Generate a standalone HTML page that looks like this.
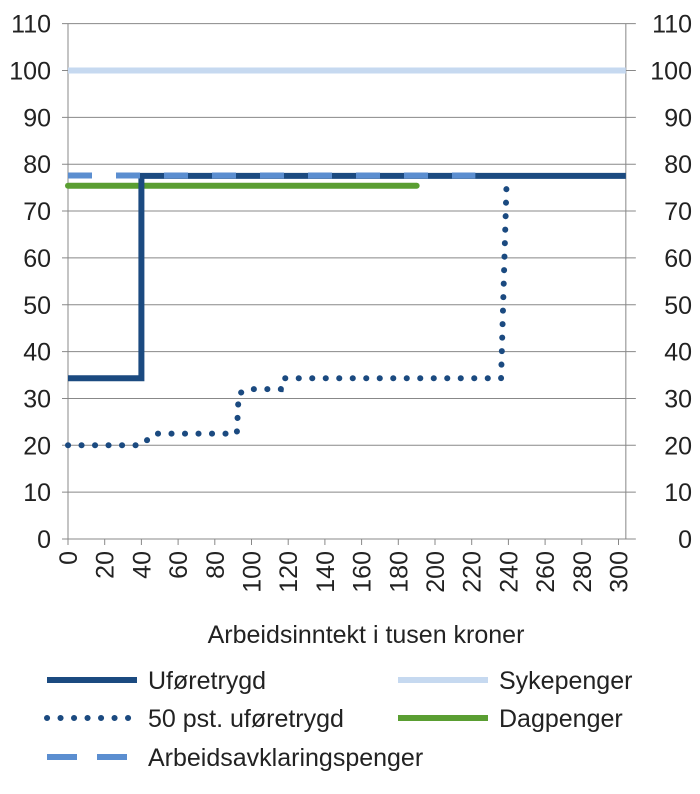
<!DOCTYPE html>
<html><head><meta charset="utf-8"><style>
body{margin:0;background:#fff}
svg text{font-family:"Liberation Sans",sans-serif;fill:#222}
</style></head><body>
<svg id="c" width="700" height="789"></svg>
<script>
const yTicks=[0,10,20,30,40,50,60,70,80,90,100,110];
const xTicks=[0,20,40,60,80,100,120,140,160,180,200,220,240,260,280,300];
const uforeX=[0,40,40,304];
const uforeY=[34.3,34.3,77.5,77.5];
const halvX=[0,40,47,92,93,98,116,117,236,239];
const halvY=[20,20,22.5,22.5,31,32,32,34.3,34.3,76];
const sykeX=[0,304];const sykeY=[100,100];
const dagX=[0,190];const dagY=[75.4,75.4];
const aapX=[0,222];const aapY=[77.6,77.6];
const NS="http://www.w3.org/2000/svg";
const svg=document.getElementById('c');
const X0=68,XS=36.7/20,Y0=539,YS=46.85/10,XMAX=304;
const sx=v=>X0+v*XS, sy=v=>Y0-v*YS;
function el(t,a,p){const e=document.createElementNS(NS,t);for(const k in a)e.setAttribute(k,a[k]);(p||svg).appendChild(e);return e;}
yTicks.forEach(v=>{
 const g=el('line',{x1:62,x2:sx(XMAX)+10,y1:sy(v),y2:sy(v),stroke:'#888','stroke-width':1});
 
 
 const t=el('text',{x:51,y:sy(v)+9,'text-anchor':'end','font-size':25});t.textContent=v;
 
 
 const t2=el('text',{x:692,y:sy(v)+9,'text-anchor':'end','font-size':25});t2.textContent=v;
 
 
});
const la=el('line',{x1:X0,x2:X0,y1:sy(110),y2:Y0+6,stroke:'#888'});

const ra=el('line',{x1:sx(XMAX),x2:sx(XMAX),y1:sy(110),y2:Y0,stroke:'#888'});

xTicks.forEach(v=>{
 const l=el('line',{x1:sx(v),x2:sx(v),y1:Y0,y2:Y0+6,stroke:'#888'});
 
 const t=el('text',{transform:`translate(${sx(v)+9},${Y0+12}) rotate(-90)`,'text-anchor':'end','font-size':25});t.textContent=v;
 
});
const xt=el('text',{x:366,y:643,'text-anchor':'middle','font-size':25});xt.textContent='Arbeidsinntekt i tusen kroner';

function pts(xs,ys){return xs.map((x,i)=>sx(x)+','+sy(ys[i])).join(' ');}
function series(xs,ys,st,name){const p=el('polyline',Object.assign({points:pts(xs,ys),fill:'none'},st));
 }
series(sykeX,sykeY,{stroke:'#c6d9f0','stroke-width':6},'series-sykepenger');
series(dagX,dagY,{stroke:'#5a9e32','stroke-width':6,'stroke-linecap':'round'},'series-dagpenger');
series(uforeX,uforeY,{stroke:'#1b4a80','stroke-width':6,'stroke-linejoin':'miter'},'series-uforetrygd');
series(aapX,aapY,{stroke:'#5b8ed0','stroke-width':6,'stroke-dasharray':'24 24'},'series-aap');
series(halvX,halvY,{stroke:'#1b4a80','stroke-width':6,'stroke-dasharray':'0.1 13.4','stroke-linecap':'round'},'series-50pst');
const leg=[
 [47,680,{stroke:'#1b4a80','stroke-width':6},'Uføretrygd'],
 [47,718,{stroke:'#1b4a80','stroke-width':6,'stroke-dasharray':'0.1 13.4','stroke-linecap':'round'},'50 pst. uføretrygd'],
 [47,757,{stroke:'#5b8ed0','stroke-width':6,'stroke-dasharray':'30 20'},'Arbeidsavklaringspenger'],
 [398,680,{stroke:'#c6d9f0','stroke-width':6},'Sykepenger'],
 [398,718,{stroke:'#5a9e32','stroke-width':6},'Dagpenger']];
leg.forEach(([x,y,st,lab])=>{
 const g=el('g',{});
 
 el('line',Object.assign({x1:x,x2:x+90,y1:y,y2:y},st),g);
 const t=el('text',{x:x+101,y:y+9,'font-size':25},g);t.textContent=lab;
});
</script>
</body></html>
